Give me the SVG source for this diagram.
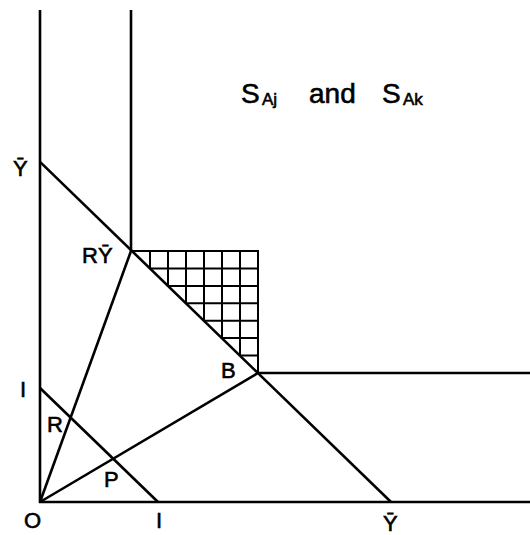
<svg xmlns="http://www.w3.org/2000/svg" width="530" height="535" viewBox="0 0 530 535">
<style>
.ln{stroke:#000;stroke-width:2.6;fill:none;stroke-linecap:butt}
.gr{stroke:#000;stroke-width:2;fill:none}
.lb{font-family:"Liberation Sans","DejaVu Sans",sans-serif;font-size:22px;fill:#000;stroke:#000;stroke-width:0.6}
.tt{font-family:"Liberation Sans","DejaVu Sans",sans-serif;fill:#000;stroke:#000;stroke-width:0.6}
</style>
<rect width="530" height="535" fill="#fff"/>
<g id="axes">
<line class="ln" x1="40" y1="10" x2="40" y2="503"/>
<line class="ln" x1="39" y1="502" x2="530" y2="502"/>
<line class="ln" x1="131" y1="10" x2="131" y2="251"/>
<line class="ln" x1="258" y1="373" x2="530" y2="373"/>
</g>
<g id="lines">
<line class="ln" x1="40" y1="161.9" x2="391" y2="502"/>
<line class="ln" x1="40" y1="388" x2="158" y2="502"/>
<line class="ln" x1="40" y1="502" x2="131" y2="251"/>
<line class="ln" x1="40" y1="502" x2="258" y2="373"/>
</g>
<g id="grid">
<path class="gr" d="M131 251H258V373"/>
<path class="gr" d="M150 251V268.4M168 251V285.9M186 251V303.3M204 251V320.7M222 251V338.1M240 251V355.6"/>
<path class="gr" d="M150 268.4H258M168 285.9H258M186 303.3H258M204 320.7H258M222 338.1H258M240 355.6H258"/>
</g>
<g id="labels">
<text class="lb" x="13" y="176">Ȳ</text>
<text class="lb" x="82" y="263">RȲ</text>
<text class="lb" x="221" y="378">B</text>
<text class="lb" x="20" y="397">I</text>
<text class="lb" x="47" y="432">R</text>
<text class="lb" x="104" y="487">P</text>
<text class="lb" x="24" y="528">O</text>
<text class="lb" x="156" y="528">I</text>
<text class="lb" x="383" y="531" font-size="20">Ȳ</text>
</g>
<g id="title">
<text class="tt" font-size="28" x="241" y="103">S</text>
<text class="tt" font-size="17" x="262" y="105">Aj</text>
<text class="tt" font-size="28" x="309" y="103">and</text>
<text class="tt" font-size="28" x="382" y="103">S</text>
<text class="tt" font-size="17" x="403" y="105">Ak</text>
</g>
</svg>
